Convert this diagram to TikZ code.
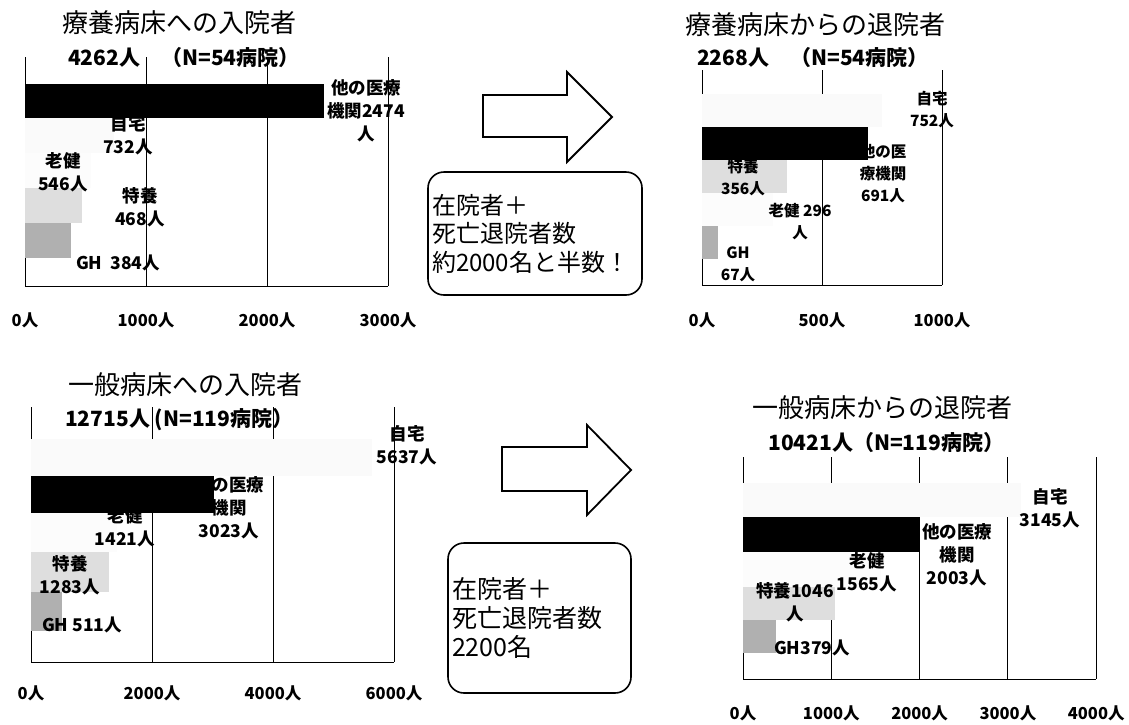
\documentclass[tikz,border=0pt]{standalone}
\usepackage{fontspec}
\setmainfont{Noto Sans CJK JP}
\tikzset{
  titre/.style={anchor=west, inner sep=0pt, font=\fontsize{26}{28}\selectfont},
  effectif/.style={anchor=west, inner sep=0pt, font=\fontsize{21}{24}\selectfont\bfseries},
  etiquette/.style={inner sep=0pt, align=center, font=\fontsize{17.5}{23}\selectfont\bfseries},
  petite/.style={font=\fontsize{15.5}{22}\selectfont\bfseries},
  graduation/.style={inner sep=0pt, font=\fontsize{16.5}{18}\selectfont\bfseries},
  grille/.style={line width=0.9pt},
  autre/.style={fill=black},
  domicile/.style={fill=gray!4},
  roken/.style={fill=gray!2},
  tokuyo/.style={fill=gray!26},
  gh/.style={fill=gray!62},
  fleche/.style={draw, line width=1.8pt, line join=miter, fill=white},
  bilan/.style={draw, line width=1.6pt, rounded corners=16pt, align=left, inner sep=4pt}
}
\begin{document}
\begin{tikzpicture}[x=1pt, y=-1pt]
    \useasboundingbox (0,0) rectangle (1129,724);

    % Graphique 1 : entrees en lits de soins
    \node[titre] (titre1) at (62,23) {療養病床への入院者};
    \node[effectif] (eff1) at (68,58) {4262人　（N=54病院）};
    \begin{scope}[shift={(25,0)}, x=0.121pt]
        \foreach \val in {0,1000,2000,3000} {
            \draw[grille] (\val,57) -- (\val,286);
            \node[graduation] (ga-\val) at (\val,320) {\val 人};
        }
        \draw[grille] (0,286) -- (3000,286);
        \fill[autre] (0,84) rectangle (2474,118);
        \fill[domicile] (0,118) rectangle (732,153);
        \fill[roken] (0,153) rectangle (546,188);
        \fill[tokuyo] (0,188) rectangle (468,223);
        \fill[gh] (0,223) rectangle (384,258);
    \end{scope}
    \node[etiquette] (autre1) at (366,111) {他の医療\\機関2474\\人};
    \node[etiquette] (dom1) at (128,135) {自宅\\732人};
    \node[etiquette] (roken1) at (63,172) {老健\\546人};
    \node[etiquette] (tokuyo1) at (140,207) {特養\\468人};
    \node[etiquette] (gh1) at (118,263) {GH~~384人};

    % Graphique 2 : sorties des lits de soins
    \node[titre] (titre2) at (685,25) {療養病床からの退院者};
    \node[effectif] (eff2) at (697,58) {2268人　（N=54病院）};
    \begin{scope}[shift={(702,0)}, x=0.24pt]
        \foreach \val in {0,500,1000} {
            \draw[grille] (\val,70) -- (\val,285);
            \node[graduation] (gb-\val) at (\val,320) {\val 人};
        }
        \draw[grille] (0,285) -- (1000,285);
        \fill[domicile] (0,94) rectangle (752,127);
        \fill[autre] (0,127) rectangle (691,160);
        \fill[tokuyo] (0,160) rectangle (356,193);
        \fill[roken] (0,193) rectangle (296,226);
        \fill[gh] (0,226) rectangle (67,259);
    \end{scope}
    \node[etiquette, petite] (dom2) at (932,110) {自宅\\752人};
    \node[etiquette, petite] (autre2) at (883,174) {他の医\\療機関\\691人};
    \node[etiquette, petite] (tokuyo2) at (743,178) {特養\\356人};
    \node[etiquette, petite] (roken2) at (800,222) {老健 296\\人};
    \node[etiquette, petite] (gh2) at (738,264) {GH\\67人};

    % Fleche et bilan du haut
    \draw[fleche] (483,95) -- (567,95) -- (567,72) -- (612,117) -- (567,162) -- (567,137) -- (483,137) -- cycle;
    \node[bilan, minimum width=214pt, minimum height=123pt, text width=206pt,
        font=\fontsize{24}{28.5}\selectfont] (bilan1) at (535,233.5)
        {在院者＋\\死亡退院者数\\約2000名と半数！};

    % Graphique 3 : entrees en lits generaux
    \node[titre] (titre3) at (68,385) {一般病床への入院者};
    \node[effectif] (eff3) at (65,420) {12715人 (N=119病院）};
    \begin{scope}[shift={(31,0)}, x=0.0605pt]
        \foreach \val in {0,2000,4000,6000} {
            \draw[grille] (\val,407) -- (\val,662);
            \node[graduation] (gc-\val) at (\val,693) {\val 人};
        }
        \draw[grille] (0,662) -- (6000,662);
        \fill[domicile] (0,439) rectangle (5637,476);
        \fill[autre] (0,476) rectangle (3023,513);
        \fill[roken] (0,513) rectangle (1421,552);
        \fill[tokuyo] (0,552) rectangle (1283,592);
        \fill[gh] (0,592) rectangle (511,631);
    \end{scope}
    \node[etiquette] (dom3) at (407,445) {自宅\\5637人};
    \node[etiquette] (autre3) at (229,508) {他の医療\\機関\\3023人};
    \node[etiquette] (roken3) at (125,527) {老健\\1421人};
    \node[etiquette] (tokuyo3) at (70,575) {特養\\1283人};
    \node[etiquette] (gh3) at (82,625) {GH 511人};

    % Graphique 4 : sorties des lits generaux
    \node[titre] (titre4) at (752,408) {一般病床からの退院者};
    \node[effectif] (eff4) at (768,443) {10421人（N=119病院）};
    \begin{scope}[shift={(743,0)}, x=0.0883pt]
        \foreach \val in {0,1000,2000,3000,4000} {
            \draw[grille] (\val,457) -- (\val,679);
            \node[graduation] (gd-\val) at (\val,713) {\val 人};
        }
        \draw[grille] (0,679) -- (4000,679);
        \fill[domicile] (0,483) rectangle (3145,517);
        \fill[autre] (0,517) rectangle (2003,552);
        \fill[roken] (0,552) rectangle (1565,587);
        \fill[tokuyo] (0,587) rectangle (1046,620);
        \fill[gh] (0,620) rectangle (379,653);
    \end{scope}
    \node[etiquette] (dom4) at (1050,508) {自宅\\3145人};
    \node[etiquette] (autre4) at (957,555) {他の医療\\機関\\2003人};
    \node[etiquette] (roken4) at (867,572) {老健\\1565人};
    \node[etiquette] (tokuyo4) at (795,602) {特養1046\\人};
    \node[etiquette] (gh4) at (812,648) {GH379人};

    % Fleche et bilan du bas
    \draw[fleche] (502,447) -- (587,447) -- (587,425) -- (631,470) -- (587,515) -- (587,491) -- (502,491) -- cycle;
    \node[bilan, minimum width=183pt, minimum height=150pt, text width=175pt,
        font=\fontsize{25}{29}\selectfont] (bilan2) at (539.5,618)
        {在院者＋\\死亡退院者数\\2200名};
\end{tikzpicture}
\end{document}
